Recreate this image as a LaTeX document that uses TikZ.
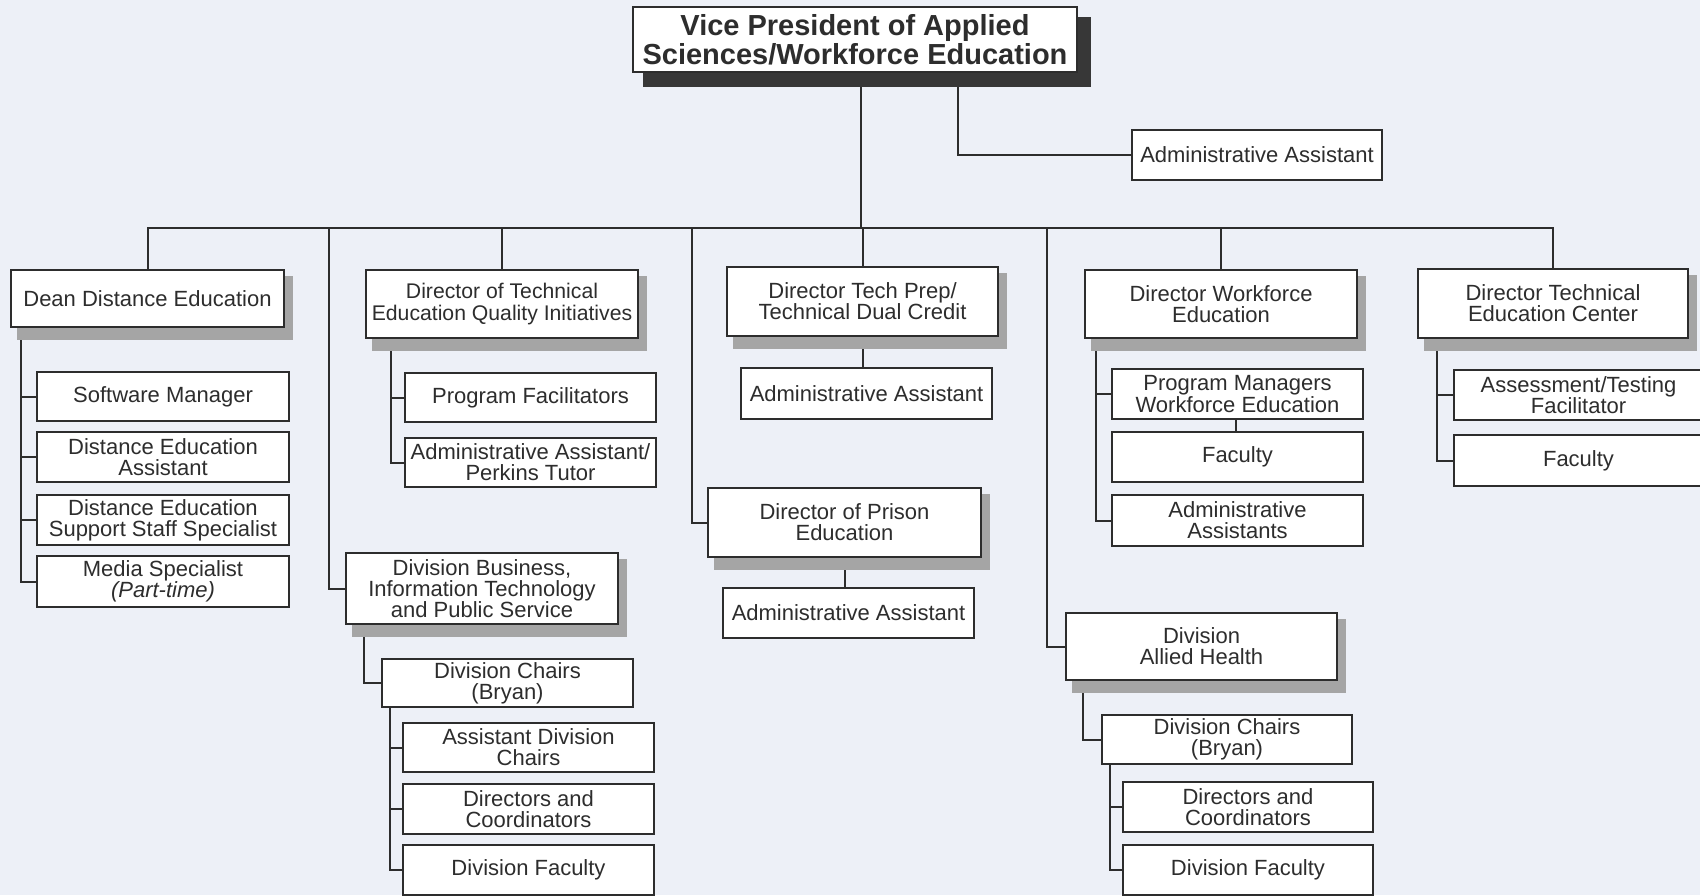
\documentclass[tikz,border=0pt]{standalone}
\usepackage{fontspec}
\setmainfont{Liberation Sans}
\usetikzlibrary{calc}
\definecolor{bgc}{RGB}{237,240,247}
\definecolor{ink}{RGB}{45,45,45}
\definecolor{shd}{RGB}{165,165,165}
\definecolor{shdk}{RGB}{55,55,55}
\pgfdeclarelayer{bgl}
\pgfdeclarelayer{lines}
\pgfdeclarelayer{shadows}
\pgfsetlayers{bgl,lines,shadows,main}
\begin{document}
\begin{tikzpicture}[x=0.5pt,y=-0.5pt,
  orgbox/.style={draw=ink, line width=1pt, fill=white, text=ink, inner sep=0pt, align=center,
    font=\fontsize{11}{10.6}\selectfont},
  vpbox/.style={orgbox, font=\bfseries\fontsize{14.5}{14.5}\selectfont},
  mainbox/.style={orgbox, minimum width=136pt, minimum height=34pt},
  subbox/.style={orgbox, minimum width=125.5pt, minimum height=25pt},
  link/.style={draw=ink, line width=1pt}]
\useasboundingbox (0,0) rectangle (1700,895);
\begin{pgfonlayer}{bgl}
  \fill[bgc] (0,0) rectangle (1700,895);
\end{pgfonlayer}

% top
\node[vpbox, minimum width=222pt, minimum height=32.5pt] (vp) at (855,39.5) {Vice President of Applied\\Sciences/Workforce Education};
\node[orgbox, minimum width=125pt, minimum height=25pt] (aa0) at (1257,155) {Administrative Assistant};

% level 1
\node[mainbox, minimum width=136.5pt, minimum height=28.5pt] (dean) at (147.5,298.5) {Dean Distance Education};
\node[mainbox, font=\fontsize{10.6}{10.6}\selectfont] (teqi) at (502,304) {Director of Technical\\Education Quality Initiatives};
\node[mainbox, minimum width=135.5pt, minimum height=34.5pt] (tprep) at (862.5,301.5) {Director Tech Prep/\\Technical Dual Credit};
\node[mainbox] (wfe) at (1221,304) {Director Workforce\\Education};
\node[mainbox, minimum width=135pt, minimum height=34.5pt] (tec) at (1553,303.5) {Director Technical\\Education Center};

% dean children
\node[subbox, minimum width=126pt, minimum height=24.5pt] (sm) at (163,396.5) {Software Manager};
\node[subbox, minimum width=126pt] (dea) at (163,457) {Distance Education\\Assistant};
\node[subbox, minimum width=126pt] (dss) at (163,520) {Distance Education\\Support Staff Specialist};
\node[subbox, minimum width=126pt, minimum height=25.5pt] (ms) at (163,581.5) {Media Specialist\\\textit{(Part-time)}};

% teqi children
\node[subbox, minimum height=24.5pt] (pf) at (530.5,397.5) {Program Facilitators};
\node[subbox, minimum height=24.5pt] (aap) at (530.5,462.5) {Administrative Assistant/\\Perkins Tutor};

% tech prep / prison
\node[subbox, minimum height=25.5pt] (aat) at (866.5,393.5) {Administrative Assistant};
\node[mainbox, minimum width=136.5pt, minimum height=34.5pt] (prison) at (844.5,522.5) {Director of Prison\\Education};
\node[subbox] (aapr) at (848.5,613) {Administrative Assistant};

% workforce children
\node[subbox] (pm) at (1237.5,394) {Program Managers\\Workforce Education};
\node[subbox] (fac1) at (1237.5,457) {Faculty};
\node[subbox, minimum height=25.5pt] (aas) at (1237.5,520.5) {Administrative\\Assistants};

% tec children
\node[subbox, minimum width=124.5pt] (ats) at (1578.5,395) {Assessment/Testing\\Facilitator};
\node[subbox, minimum width=124.5pt, minimum height=25.5pt] (fac2) at (1578.5,460.5) {Faculty};

% division business
\node[mainbox, minimum height=35.5pt] (dbus) at (482,588.5) {Division Business,\\Information Technology\\and Public Service};
\node[subbox, minimum height=24pt] (dc1) at (507.5,683) {Division Chairs\\(Bryan)};
\node[subbox, minimum height=24.5pt] (adc) at (528.5,747.5) {Assistant Division\\Chairs};
\node[subbox] (dac1) at (528.5,809) {Directors and\\Coordinators};
\node[subbox, minimum height=25pt] (df1) at (528.5,869.5) {Division Faculty};

% allied health
\node[mainbox, minimum width=135.5pt, minimum height=33.5pt] (dah) at (1201.5,646.5) {Division\\Allied Health};
\node[subbox, minimum width=125pt, minimum height=24.5pt] (dc2) at (1227,739.5) {Division Chairs\\(Bryan)};
\node[subbox, minimum width=125pt] (dac2) at (1248,807) {Directors and\\Coordinators};
\node[subbox, minimum width=125pt] (df2) at (1248,869.5) {Division Faculty};

% shadows
\begin{pgfonlayer}{shadows}
  \fill[shdk] ($(vp.north west)+(11,11)$) rectangle ($(vp.south east)+(13,14)$);
  \foreach \n in {dean,teqi,tprep,wfe,tec,prison,dbus,dah}
    \fill[shd] ($(\n.north west)+(7,7)$) rectangle ($(\n.south east)+(8,12)$);
\end{pgfonlayer}

% connectors
\begin{pgfonlayer}{lines}
  \coordinate (bus) at (0,228);
  \coordinate (vpt) at ($(vp.south west)+(229,0)$);
  \coordinate (vpa) at ($(vp.south west)+(326,0)$);
  \draw[link] (vpt) -- (vpt |- bus);
  \draw[link] (vpa) |- (aa0.west);
  \draw[link] (dean.north) -- (dean.north |- bus) -- (tec.north |- bus) -- (tec.north);
  \foreach \n in {teqi,tprep,wfe}
    \draw[link] (\n.north) -- (\n.north |- bus);
  \coordinate (b1) at (328.5,228);
  \coordinate (b2) at (691.7,228);
  \coordinate (b3) at (1046.5,228);
  \draw[link] (b1) |- (dbus.west);
  \draw[link] (b2) |- (prison.west);
  \draw[link] (b3) |- (dah.west);
  % dean
  \coordinate (dt) at ($(dean.south west)+(11,0)$);
  \foreach \c in {sm,dea,dss,ms} \draw[link] (dt) |- (\c.west);
  % teqi
  \coordinate (tt) at ($(teqi.south west)+(26,0)$);
  \foreach \c in {pf,aap} \draw[link] (tt) |- (\c.west);
  % tech prep, prison
  \draw[link] (tprep.south) -- (tprep.south |- aat.north);
  \draw[link] (prison.south) -- (prison.south |- aapr.north);
  % workforce
  \coordinate (wt) at ($(wfe.south west)+(12.3,0)$);
  \foreach \c in {pm,aas} \draw[link] (wt) |- (\c.west);
  \draw[link] ($(pm.south)+(-2,0)$) -- ($(fac1.north)+(-2,0)$);
  % tec
  \coordinate (ct) at ($(tec.south west)+(20.4,0)$);
  \foreach \c in {ats,fac2} \draw[link] (ct) |- (\c.west);
  % division business
  \coordinate (bt) at ($(dbus.south west)+(19,0)$);
  \draw[link] (bt) |- (dc1.west);
  \coordinate (ct1) at ($(dc1.south west)+(9,0)$);
  \foreach \c in {adc,dac1,df1} \draw[link] (ct1) |- (\c.west);
  % allied health
  \coordinate (ht) at ($(dah.south west)+(18.3,0)$);
  \draw[link] (ht) |- (dc2.west);
  \coordinate (ct2) at ($(dc2.south west)+(9,0)$);
  \foreach \c in {dac2,df2} \draw[link] (ct2) |- (\c.west);
\end{pgfonlayer}
\end{tikzpicture}
\end{document}
